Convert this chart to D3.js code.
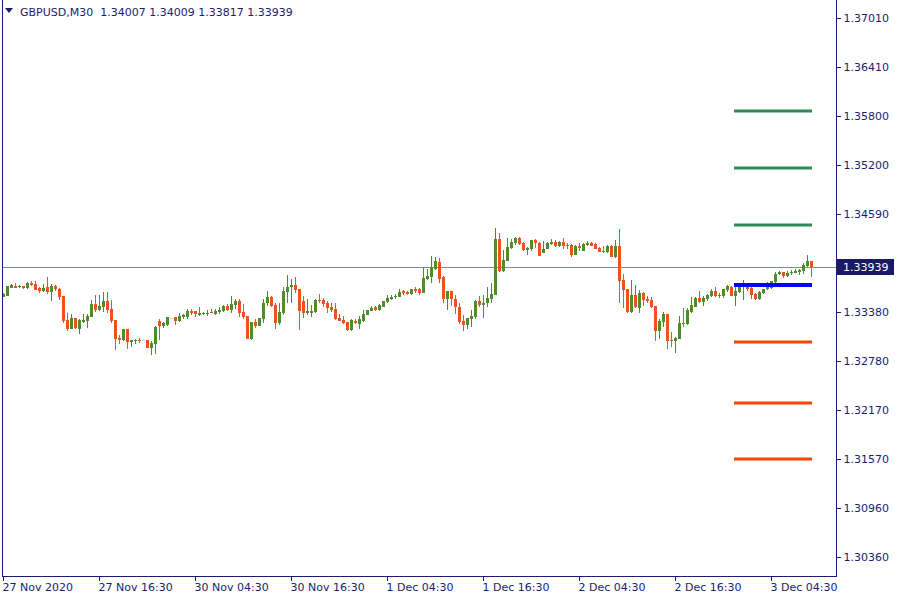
<!DOCTYPE html>
<html>
<head>
<meta charset="utf-8">
<script src="https://cdn.jsdelivr.net/npm/d3@7/dist/d3.min.js"></script>
<style>
html,body{margin:0;padding:0;background:#fff;}
svg{display:block;}
text{font-family:"DejaVu Sans",sans-serif;font-size:11px;}
</style>
</head>
<body>
<svg id="chart" width="900" height="600"></svg>
<script>
const symbolTitle = "GBPUSD,M30";
const lastOHLC = ["1.34007", "1.34009", "1.33817", "1.33939"];
const currentPrice = 1.33939;

const timeLabels = ["27 Nov 2020","27 Nov 16:30","30 Nov 04:30","30 Nov 16:30","1 Dec 04:30","1 Dec 16:30","2 Dec 04:30","2 Dec 16:30","3 Dec 04:30"];
const timeLabelBars = [0,24,48,72,96,120,144,168,192];

const priceTicks = [1.37010,1.36410,1.35800,1.35200,1.34590,1.33985,1.33380,1.32780,1.32170,1.31570,1.30960,1.30360];

const resistanceLevels = [1.35863, 1.35159, 1.34456];
const pivotLevel = 1.33716;
const supportLevels = [1.33013, 1.32260, 1.31569];
const levelStartBar = 183;
const levelEndBar = 202;

const opens = [1.33563,1.33584,1.33683,1.33703,1.33691,1.33703,1.33679,1.33744,1.33732,1.33679,
1.33642,1.33687,1.33629,1.33703,1.33666,1.33580,1.33284,1.33177,1.33308,1.33177,
1.33263,1.33271,1.33325,1.33481,1.33411,1.33448,1.33518,1.33415,1.33284,1.33062,
1.33037,1.33173,1.33012,1.33020,1.33041,1.33035,1.33037,1.32938,1.32988,1.33275,
1.33214,1.33222,1.33313,1.33321,1.33271,1.33321,1.33317,1.33399,1.33391,1.33350,
1.33358,1.33358,1.33382,1.33358,1.33382,1.33399,1.33461,1.33407,1.33473,1.33522,
1.33382,1.33337,1.33053,1.33259,1.33214,1.33296,1.33489,1.33568,1.33473,1.33251,
1.33366,1.33629,1.33687,1.33720,1.33667,1.33519,1.33375,1.33375,1.33383,1.33535,
1.33531,1.33498,1.33449,1.33416,1.33309,1.33284,1.33260,1.33157,1.33276,1.33235,
1.33276,1.33350,1.33399,1.33441,1.33408,1.33449,1.33506,1.33548,1.33564,1.33572,
1.33646,1.33634,1.33605,1.33663,1.33663,1.33622,1.33794,1.33819,1.33918,1.34000,
1.33819,1.33543,1.33642,1.33543,1.33440,1.33272,1.33227,1.33301,1.33325,1.33519,
1.33473,1.33498,1.33547,1.33597,1.34284,1.33893,1.34016,1.34173,1.34230,1.34292,
1.34234,1.34148,1.34156,1.34271,1.34234,1.34115,1.34164,1.34222,1.34247,1.34193,
1.34247,1.34214,1.34210,1.34090,1.34197,1.34140,1.34214,1.34234,1.34222,1.34173,
1.34135,1.34123,1.34197,1.34061,1.34197,1.33778,1.33667,1.33383,1.33593,1.33432,
1.33617,1.33547,1.33535,1.33457,1.33148,1.33264,1.33358,1.33041,1.33029,1.33054,
1.33251,1.33239,1.33387,1.33449,1.33556,1.33510,1.33539,1.33580,1.33642,1.33580,
1.33580,1.33654,1.33695,1.33580,1.33630,1.33695,1.33712,1.33679,1.33605,1.33547,
1.33617,1.33663,1.33679,1.33753,1.33852,1.33872,1.33831,1.33860,1.33868,1.33876,
1.33893,1.33950,1.34007];
const highs = [1.33613,1.33703,1.33728,1.33736,1.33720,1.33703,1.33753,1.33769,1.33761,1.33687,
1.33728,1.33814,1.33728,1.33720,1.33679,1.33580,1.33366,1.33354,1.33308,1.33292,
1.33354,1.33354,1.33530,1.33596,1.33596,1.33629,1.33629,1.33530,1.33284,1.33099,
1.33173,1.33173,1.33037,1.33053,1.33062,1.33045,1.33037,1.33025,1.33214,1.33300,
1.33259,1.33325,1.33325,1.33321,1.33366,1.33358,1.33424,1.33415,1.33391,1.33444,
1.33387,1.33407,1.33415,1.33415,1.33440,1.33473,1.33485,1.33584,1.33539,1.33539,
1.33485,1.33337,1.33259,1.33292,1.33308,1.33539,1.33642,1.33580,1.33498,1.33489,
1.33691,1.33839,1.33790,1.33818,1.33667,1.33580,1.33539,1.33469,1.33543,1.33605,
1.33552,1.33523,1.33490,1.33498,1.33358,1.33334,1.33260,1.33293,1.33293,1.33338,
1.33408,1.33408,1.33457,1.33457,1.33482,1.33519,1.33593,1.33593,1.33601,1.33667,
1.33654,1.33646,1.33667,1.33687,1.33679,1.33934,1.33909,1.34074,1.34066,1.34045,
1.33827,1.33642,1.33642,1.33593,1.33490,1.33346,1.33309,1.33408,1.33531,1.33580,
1.33593,1.33691,1.33745,1.34419,1.34354,1.34148,1.34292,1.34288,1.34312,1.34304,
1.34247,1.34189,1.34271,1.34288,1.34247,1.34255,1.34247,1.34279,1.34271,1.34255,
1.34296,1.34238,1.34222,1.34214,1.34230,1.34230,1.34255,1.34247,1.34230,1.34181,
1.34197,1.34205,1.34205,1.34271,1.34411,1.33852,1.33667,1.33778,1.33716,1.33654,
1.33630,1.33580,1.33572,1.33457,1.33301,1.33383,1.33358,1.33136,1.33078,1.33334,
1.33432,1.33432,1.33564,1.33564,1.33646,1.33580,1.33605,1.33663,1.33691,1.33613,
1.33671,1.33712,1.33704,1.33737,1.33745,1.33778,1.33745,1.33712,1.33613,1.33646,
1.33671,1.33753,1.33769,1.33872,1.33885,1.33880,1.33885,1.33897,1.33909,1.33918,
1.33992,1.34090,1.34009];
const lows = [1.33563,1.33584,1.33683,1.33683,1.33679,1.33670,1.33670,1.33703,1.33658,1.33613,
1.33625,1.33609,1.33518,1.33646,1.33530,1.33251,1.33152,1.33177,1.33169,1.33111,
1.33243,1.33185,1.33317,1.33387,1.33399,1.33378,1.33366,1.33247,1.32914,1.32983,
1.33020,1.32926,1.32946,1.32988,1.32996,1.33025,1.32938,1.32856,1.32868,1.33037,
1.33189,1.33206,1.33300,1.33226,1.33255,1.33292,1.33300,1.33341,1.33325,1.33333,
1.33341,1.33333,1.33366,1.33345,1.33354,1.33378,1.33399,1.33366,1.33424,1.33317,
1.33292,1.33049,1.33037,1.33185,1.33210,1.33251,1.33456,1.33448,1.33177,1.33222,
1.33345,1.33498,1.33498,1.33618,1.33161,1.33313,1.33346,1.33325,1.33366,1.33490,
1.33449,1.33375,1.33387,1.33284,1.33276,1.33235,1.33149,1.33153,1.33235,1.33177,
1.33264,1.33342,1.33391,1.33395,1.33399,1.33445,1.33498,1.33531,1.33548,1.33564,
1.33589,1.33589,1.33597,1.33613,1.33597,1.33613,1.33778,1.33745,1.33901,1.33745,
1.33494,1.33408,1.33457,1.33358,1.33235,1.33153,1.33173,1.33202,1.33292,1.33449,
1.33305,1.33449,1.33498,1.33597,1.33876,1.33876,1.34008,1.34156,1.34205,1.34214,
1.34140,1.34090,1.34140,1.34173,1.34078,1.34115,1.34156,1.34205,1.34181,1.34181,
1.34164,1.34156,1.34066,1.34090,1.34140,1.34140,1.34197,1.34197,1.34164,1.34119,
1.34115,1.34115,1.34057,1.34049,1.33498,1.33432,1.33375,1.33375,1.33432,1.33375,
1.33457,1.33498,1.33432,1.33029,1.33054,1.33194,1.32922,1.32947,1.32873,1.33054,
1.33202,1.33222,1.33375,1.33440,1.33490,1.33457,1.33519,1.33564,1.33564,1.33560,
1.33560,1.33634,1.33580,1.33457,1.33621,1.33531,1.33646,1.33543,1.33531,1.33531,
1.33605,1.33650,1.33671,1.33745,1.33835,1.33802,1.33819,1.33843,1.33860,1.33843,
1.33848,1.33942,1.33817];
const closes = [1.33604,1.33703,1.33711,1.33683,1.33707,1.33683,1.33744,1.33711,1.33658,1.33642,
1.33679,1.33629,1.33699,1.33666,1.33572,1.33267,1.33177,1.33308,1.33185,1.33284,
1.33284,1.33333,1.33481,1.33407,1.33456,1.33518,1.33411,1.33267,1.33053,1.33037,
1.33173,1.33016,1.33037,1.33037,1.33025,1.33035,1.32938,1.32996,1.33197,1.33214,
1.33243,1.33317,1.33313,1.33275,1.33333,1.33341,1.33399,1.33366,1.33354,1.33374,
1.33374,1.33374,1.33366,1.33399,1.33411,1.33461,1.33407,1.33485,1.33522,1.33374,
1.33325,1.33049,1.33259,1.33214,1.33308,1.33493,1.33568,1.33461,1.33251,1.33382,
1.33642,1.33691,1.33720,1.33654,1.33395,1.33375,1.33391,1.33399,1.33535,1.33515,
1.33482,1.33432,1.33408,1.33301,1.33276,1.33251,1.33157,1.33284,1.33243,1.33301,
1.33358,1.33404,1.33432,1.33408,1.33465,1.33519,1.33560,1.33572,1.33585,1.33630,
1.33613,1.33605,1.33663,1.33638,1.33622,1.33800,1.33827,1.33932,1.34012,1.33794,
1.33543,1.33642,1.33539,1.33449,1.33264,1.33227,1.33309,1.33334,1.33523,1.33473,
1.33498,1.33551,1.33601,1.34284,1.33885,1.34024,1.34185,1.34247,1.34292,1.34222,
1.34148,1.34173,1.34271,1.34230,1.34078,1.34160,1.34230,1.34247,1.34201,1.34247,
1.34197,1.34197,1.34090,1.34197,1.34177,1.34226,1.34234,1.34197,1.34164,1.34127,
1.34123,1.34197,1.34066,1.34193,1.33769,1.33654,1.33383,1.33593,1.33440,1.33617,
1.33531,1.33523,1.33449,1.33148,1.33272,1.33358,1.33029,1.33029,1.33062,1.33247,
1.33235,1.33408,1.33465,1.33560,1.33510,1.33556,1.33589,1.33646,1.33580,1.33593,
1.33667,1.33700,1.33580,1.33646,1.33712,1.33728,1.33671,1.33597,1.33543,1.33630,
1.33671,1.33728,1.33765,1.33848,1.33872,1.33827,1.33864,1.33880,1.33893,1.33901,
1.33959,1.34008,1.33939];

const bullColor = "#4f8d2b";
const bearColor = "#f44f1f";
const dojiColor = "#f3ddd2";
const axisColor = "#1c1c70";
const resColor = "#2e8b57";
const supColor = "#ff4500";
const pivColor = "#0000ff";

const plotL = 2, plotR = 836, plotB = 576;

const svg = d3.select("#chart");

const candles = opens.map((o, i) => ({i, o, h: highs[i], l: lows[i], c: closes[i]}));

const x = d3.scaleLinear().domain([0, 202]).range([3, 811]);
const y = d3.scaleLinear().domain([1.37010, 1.30360]).range([18, 557]);

// current price line
svg.append("line")
  .attr("x1", plotL).attr("x2", plotR)
  .attr("y1", Math.round(y(currentPrice)) + 0.5).attr("y2", Math.round(y(currentPrice)) + 0.5)
  .attr("stroke", "#7d8a97").attr("stroke-width", 1);

// candles
const g = svg.append("g").attr("shape-rendering", "crispEdges");
const cg = g.selectAll("g.candle").data(candles).join("g");
const colorOf = d => d.c > d.o ? bullColor : d.c < d.o ? bearColor : dojiColor;
cg.append("rect")
  .attr("x", d => Math.round(x(d.i)))
  .attr("width", 1)
  .attr("y", d => Math.round(y(d.h)))
  .attr("height", d => Math.max(1, Math.round(y(d.l)) - Math.round(y(d.h))))
  .attr("fill", colorOf);
cg.append("rect")
  .attr("x", d => Math.round(x(d.i)) - 1)
  .attr("width", 3)
  .attr("y", d => Math.round(y(Math.max(d.o, d.c))))
  .attr("height", d => Math.max(1, Math.round(y(Math.min(d.o, d.c))) - Math.round(y(Math.max(d.o, d.c)))))
  .attr("fill", colorOf);

// level lines
const levelG = svg.append("g");
function levelLine(v, color, w) {
  levelG.append("line")
    .attr("x1", x(levelStartBar) - 1).attr("x2", x(levelEndBar) + 1)
    .attr("y1", y(v)).attr("y2", y(v))
    .attr("stroke", color).attr("stroke-width", w).attr("stroke-linecap", "butt");
}
resistanceLevels.forEach(v => levelLine(v, resColor, 3));
supportLevels.forEach(v => levelLine(v, supColor, 3));
levelLine(pivotLevel, pivColor, 4);

// frame
const frame = svg.append("g").attr("shape-rendering", "crispEdges");
frame.append("line").attr("x1", plotL + 0.5).attr("x2", plotL + 0.5).attr("y1", 0).attr("y2", plotB + 1).attr("stroke", axisColor);
frame.append("line").attr("x1", plotR + 0.5).attr("x2", plotR + 0.5).attr("y1", 0).attr("y2", plotB + 1).attr("stroke", axisColor);
frame.append("line").attr("x1", plotL).attr("x2", plotR + 1).attr("y1", plotB + 0.5).attr("y2", plotB + 0.5).attr("stroke", axisColor);

// right price axis (tick hidden behind current-price box gets no text)
const cy = Math.round(y(currentPrice));
const yAxis = d3.axisRight(y).tickValues(priceTicks).tickSize(4).tickPadding(3)
  .tickFormat(d => Math.abs(y(d) - cy) < 12 ? "" : d.toFixed(5));
const ya = svg.append("g").attr("transform", `translate(${plotR + 0.5},0)`).call(yAxis);
ya.select(".domain").remove();
ya.selectAll("line").attr("stroke", axisColor).attr("shape-rendering", "crispEdges");
ya.selectAll("text").attr("fill", axisColor).style("font-family", "DejaVu Sans").style("font-size", "11px");

// bottom time axis
const xAxis = d3.axisBottom(x).tickValues(timeLabelBars).tickSize(4).tickPadding(3)
  .tickFormat((d, i) => timeLabels[i]);
const xa = svg.append("g").attr("transform", `translate(0,${plotB + 0.5})`).call(xAxis);
xa.select(".domain").remove();
xa.selectAll("line").attr("stroke", axisColor).attr("shape-rendering", "crispEdges");
xa.selectAll("text").attr("fill", axisColor).attr("text-anchor", "start").attr("dx", -1)
  .style("font-family", "DejaVu Sans").style("font-size", "11px");

// current price label
svg.append("rect").attr("x", plotR + 1).attr("y", cy - 8).attr("width", 57).attr("height", 16)
  .attr("fill", "#191966");
svg.append("text").attr("x", plotR + 7).attr("y", cy + 4).attr("fill", "#ffffff")
  .text(currentPrice.toFixed(5));

// title
svg.append("path").attr("d", "M5,8 L13,8 L9,13 Z").attr("fill", axisColor);
svg.append("text").attr("x", 20).attr("y", 16).attr("fill", axisColor)
  .attr("xml:space", "preserve")
  .text(symbolTitle + "  " + lastOHLC.join(" "));
</script>
</body>
</html>
